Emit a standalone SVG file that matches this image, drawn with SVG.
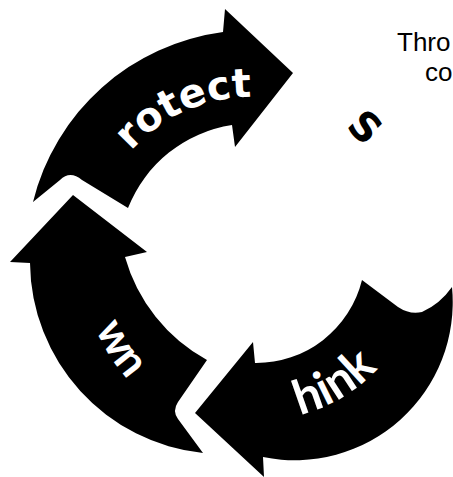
<svg xmlns="http://www.w3.org/2000/svg" xmlns:xlink="http://www.w3.org/1999/xlink" width="453" height="477" viewBox="0 0 453 477">
  <style>
    .arrow { fill: #000; stroke: none; }
    .label { fill: #fff; font-weight: bold; }
    .geo { font-family: "DejaVu Sans", "Liberation Sans", sans-serif; }
    .hum { font-family: Lato, "Open Sans", "Liberation Sans", sans-serif; }
    .note { fill: #000; font-family: "Liberation Sans", Arial, sans-serif; font-size: 26px; }
  </style>
  <defs>
    <!-- baselines for the curved labels -->
    <path id="arc-protect" d="M112.4,177 A160,160 0 0 1 331,118.4"/>
    <path id="arc-think" d="M205.3,410.4 A160,160 0 0 0 417.6,287.8"/>
    <path id="arc-own" d="M92.7,199.1 A178,178 0 0 0 229.1,435.3"/>
  </defs>
  <rect width="453" height="477" fill="#fff"/>

  <!-- top arrow, pointing right -->
  <g id="protect">
    <path class="arrow" d="M293,73 L235,147 L232,125 A133.5,133.5 0 0 0 128,208 L82,180 Q70,170 60,180 L33,202 A226,226 0 0 1 223,32 L225,9 Z"/>
    <text class="label geo" font-size="40"><textPath xlink:href="#arc-protect" startOffset="100" text-anchor="middle">rotect</textPath></text>
  </g>

  <!-- left arrow, pointing up -->
  <g id="own">
    <path class="arrow" d="M73,195 L147,252 L125,257 A170,170 0 0 0 207,360 L178,402 Q172,411 178,419 L203,453 A193,193 0 0 1 30,263 L10,262 Z"/>
    <text class="label hum" font-size="44"><textPath xlink:href="#arc-own" startOffset="163" text-anchor="middle">wn</textPath></text>
  </g>

  <!-- bottom-right arrow, pointing left -->
  <g id="think">
    <path class="arrow" d="M195,413 L253,342 L255,363 A109,109 0 0 0 362,280 L398,307 Q410,315 422,312 Q440,304 452,287 A158,158 0 0 1 263,457 L264,477 Z"/>
    <text class="label hum" font-size="48"><textPath xlink:href="#arc-think" startOffset="142" text-anchor="middle">hink</textPath></text>
  </g>

  <!-- right-hand label -->
  <g id="stay">
    <text class="geo" font-size="40" font-weight="bold" fill="#000" text-anchor="middle" transform="translate(365,127) rotate(45)" y="14">S</text>
  </g>

  <!-- side note -->
  <g id="note">
    <text class="note" x="397" y="51">Thro</text>
    <text class="note" x="425" y="81">co</text>
  </g>
</svg>
